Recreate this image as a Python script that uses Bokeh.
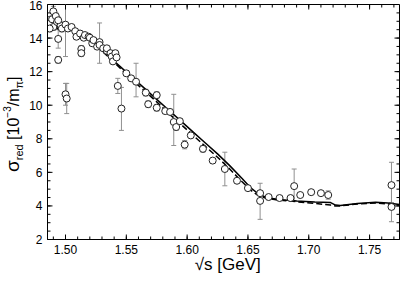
from bokeh.plotting import figure
from bokeh.models import (ColumnDataSource, Whisker, TeeHead, FixedTicker,
                          PrintfTickFormatter, Range1d, Div)
from bokeh.layouts import row
from bokeh.embed import file_html
from bokeh.resources import INLINE

# ---------------- data ----------------
pt_x = [1.486, 1.487, 1.489, 1.490, 1.492, 1.490, 1.487, 1.493, 1.496, 1.497, 1.494, 1.494,
        1.494, 1.500, 1.501, 1.500, 1.502, 1.505, 1.508, 1.509, 1.512, 1.513, 1.513, 1.515,
        1.516, 1.519, 1.520, 1.522, 1.523, 1.526, 1.528, 1.528, 1.531, 1.534, 1.534, 1.537,
        1.538, 1.539, 1.541, 1.542, 1.543, 1.546, 1.550, 1.554, 1.558, 1.566, 1.568, 1.575,
        1.575, 1.582, 1.586, 1.589, 1.591, 1.594, 1.598, 1.603, 1.613, 1.621, 1.631, 1.641,
        1.650, 1.660, 1.660, 1.667, 1.676, 1.685, 1.688, 1.693, 1.702, 1.710, 1.716, 1.768,
        1.768]
pt_y = [15.06, 14.86, 15.12, 15.59, 15.31, 14.66, 14.57, 14.96, 14.76, 14.57, 15.06, 13.95,
        12.70, 10.65, 10.40, 14.80, 14.57, 14.66, 14.41, 14.08, 14.27, 13.35, 13.10, 14.02,
        14.18, 14.08, 14.02, 13.69, 13.88, 13.49, 13.76, 13.59, 13.39, 13.24, 13.39, 13.10,
        12.90, 12.61, 13.10, 12.85, 11.15, 9.80, 11.90, 11.60, 11.40, 10.75, 10.06, 10.60,
        9.85, 9.65, 9.60, 9.00, 8.70, 9.05, 7.65, 8.20, 7.40, 6.70, 6.20, 5.50,
        5.06, 4.76, 4.30, 4.53, 4.47, 4.47, 5.18, 4.65, 4.82, 4.76, 4.65, 5.24,
        3.94]
pt_lo = [14.86, 14.66, 14.92, 15.29, 15.11, 14.46, 14.37, 14.76, 14.56, 14.37, 14.86, 13.40,
         12.50, 10.00, 9.50, 12.90, 14.42, 14.51, 14.26, 13.93, 14.12, 13.15, 12.90, 13.87,
         14.03, 13.93, 13.87, 13.54, 13.73, 13.34, 12.50, 13.44, 13.24, 13.09, 13.24, 12.95,
         12.75, 12.46, 12.95, 12.70, 10.70, 8.50, 11.75, 11.45, 10.50, 10.55, 9.86, 10.40,
         9.65, 9.50, 9.45, 7.60, 8.50, 8.90, 7.40, 8.05, 7.20, 6.55, 5.20, 5.35,
         4.91, 4.61, 3.20, 4.43, 4.37, 4.37, 4.30, 4.55, 4.72, 4.66, 4.40, 4.20,
         3.06]
pt_hi = [15.26, 15.06, 15.32, 15.89, 15.51, 14.86, 14.77, 15.16, 14.96, 14.77, 15.26, 14.50,
         12.90, 11.30, 11.30, 16.10, 14.72, 14.81, 14.56, 14.23, 14.42, 13.55, 13.30, 14.17,
         14.33, 14.23, 14.17, 13.84, 14.03, 13.64, 14.90, 13.74, 13.54, 13.39, 13.54, 13.25,
         13.05, 12.76, 13.25, 13.00, 11.60, 11.06, 12.05, 11.75, 12.50, 10.95, 10.26, 10.80,
         10.05, 9.80, 9.75, 10.65, 8.90, 9.20, 7.90, 8.35, 7.60, 6.85, 7.20, 5.65,
         5.21, 4.91, 5.35, 4.63, 4.57, 4.57, 6.20, 4.75, 4.92, 4.86, 4.90, 6.60,
         5.20]

model_x = [1.4852, 1.495, 1.505, 1.515, 1.525, 1.535, 1.545, 1.555, 1.565, 1.575, 1.585,
           1.595, 1.605, 1.615, 1.625, 1.635, 1.645, 1.652, 1.658, 1.665, 1.675, 1.690,
           1.705, 1.718, 1.722, 1.726, 1.740, 1.755, 1.765, 1.7746]
model_solid = [14.65, 14.60, 14.50, 14.20, 13.60, 12.95, 12.30, 11.65, 11.00, 10.35, 9.70,
               9.05, 8.40, 7.75, 7.10, 6.40, 5.65, 5.10, 4.75, 4.50, 4.38, 4.30,
               4.24, 4.20, 4.05, 4.02, 4.15, 4.22, 4.18, 4.08]
model_dashed = [14.60, 14.55, 14.45, 14.15, 13.55, 12.90, 12.20, 11.50, 10.85, 10.20, 9.50,
                8.85, 8.20, 7.55, 6.90, 6.20, 5.45, 4.95, 4.65, 4.45, 4.35, 4.25,
                4.15, 4.05, 4.00, 4.00, 4.12, 4.17, 4.12, 4.05]

x_major = [1.50, 1.55, 1.60, 1.65, 1.70, 1.75]
x_minor = [round(1.49 + 0.01 * i, 2) for i in range(29)]
y_major = [2, 4, 6, 8, 10, 12, 14, 16]
y_minor = [2 + 0.5 * i for i in range(29)]

X0, X1, Y0, Y1 = 1.4852, 1.7746, 2.0, 16.0

x_label = "\u2002\u221as [GeV]"
y_label_html = ('<span style="font-size:19px">\u03c3</span>'
                '<span style="font-size:11px;position:relative;top:4px">red</span>'
                '<span style="font-size:16px"> [10</span>'
                '<span style="font-size:10px;position:relative;top:-8px">\u22123</span>'
                '<span style="font-size:16px">/m</span>'
                '<span style="font-size:11px;position:relative;top:4px">\u03c0</span>'
                '<span style="font-size:16px">]</span>')

FONT = "Liberation Sans"
FW, FH = 353, 235          # frame size in px
LEFT, TOP, RIGHT, BOTTOM = 20, 4, 4, 37
DIV_W = 16

# ---------------- figure ----------------
p = figure(width=LEFT + FW + RIGHT, height=TOP + FH + BOTTOM,
           output_backend="svg", toolbar_location=None,
           x_range=Range1d(X0, X1), y_range=Range1d(Y0, Y1),
           min_border_left=LEFT, min_border_top=TOP, min_border_bottom=BOTTOM,
           min_border_right=RIGHT,
           background_fill_color=None, border_fill_color=None)
p.grid.visible = False
p.outline_line_color = "black"
p.outline_line_width = 1

for ax, ticks, minors in ((p.xaxis[0], x_major, x_minor), (p.yaxis[0], y_major, y_minor)):
    ax.ticker = FixedTicker(ticks=ticks, minor_ticks=minors)
    ax.major_tick_in = 0
    ax.major_tick_out = 0
    ax.minor_tick_in = 0
    ax.minor_tick_out = 0
    ax.axis_line_color = "black"
    ax.major_label_text_font = FONT
    ax.major_label_text_font_size = "12px"
    ax.major_label_text_color = "black"
p.xaxis[0].major_label_standoff = 5
p.yaxis[0].major_label_standoff = 5
p.xaxis[0].formatter = PrintfTickFormatter(format="%.2f")
p.xaxis[0].axis_label = x_label
p.xaxis[0].axis_label_text_font = FONT
p.xaxis[0].axis_label_text_font_size = "17px"
p.xaxis[0].axis_label_text_font_style = "normal"
p.xaxis[0].axis_label_text_color = "black"
p.xaxis[0].axis_label_standoff = -2

# inward tick marks on all four sides (tick values from the tick lists)
dxM, dxm = 5 * (X1 - X0) / FW, 3 * (X1 - X0) / FW
dyM, dym = 5 * (Y1 - Y0) / FH, 3 * (Y1 - Y0) / FH
tx, ty0, ty1 = [], [], []
for t, d in [(t, dym) for t in x_minor] + [(t, dyM) for t in x_major]:
    tx += [t, t]; ty0 += [Y0, Y1]; ty1 += [Y0 + d, Y1 - d]
p.segment(x0=tx, y0=ty0, x1=tx, y1=ty1, line_color="black", line_width=1)
sy, sx0, sx1 = [], [], []
for t, d in [(t, dxm) for t in y_minor] + [(t, dxM) for t in y_major]:
    sy += [t, t]; sx0 += [X0, X1]; sx1 += [X0 + d, X1 - d]
p.segment(x0=sx0, y0=sy, x1=sx1, y1=sy, line_color="black", line_width=1)

src = ColumnDataSource(dict(x=pt_x, y=pt_y, lo=pt_lo, hi=pt_hi))
w = Whisker(base="x", lower="lo", upper="hi", source=src, line_color="#909090", line_width=1,
            upper_head=TeeHead(size=5, line_color="#909090", line_width=1),
            lower_head=TeeHead(size=5, line_color="#909090", line_width=1))
p.add_layout(w)

p.line(model_x, model_dashed, line_color="black", line_width=1.5, line_dash="6 3")
p.line(model_x, model_solid, line_color="black", line_width=1.5)

p.scatter("x", "y", source=src, marker="circle", size=7, fill_color="white",
          line_color="#222222", line_width=1)

# rotated y-axis title with sub/superscripts (HTML text)
ylab = Div(width=DIV_W, height=TOP + FH + BOTTOM, styles={"overflow": "visible"},
           text=('<div style="position:absolute;left:-2px;top:167px;'
                 'transform:rotate(-90deg);transform-origin:0 0;white-space:nowrap;'
                 "font-family:'Liberation Sans';color:#000;line-height:20px;\">"
                 + y_label_html + '</div>'))

layout = row(ylab, p, spacing=0)
open("out.html", "w").write(file_html(layout, INLINE))
